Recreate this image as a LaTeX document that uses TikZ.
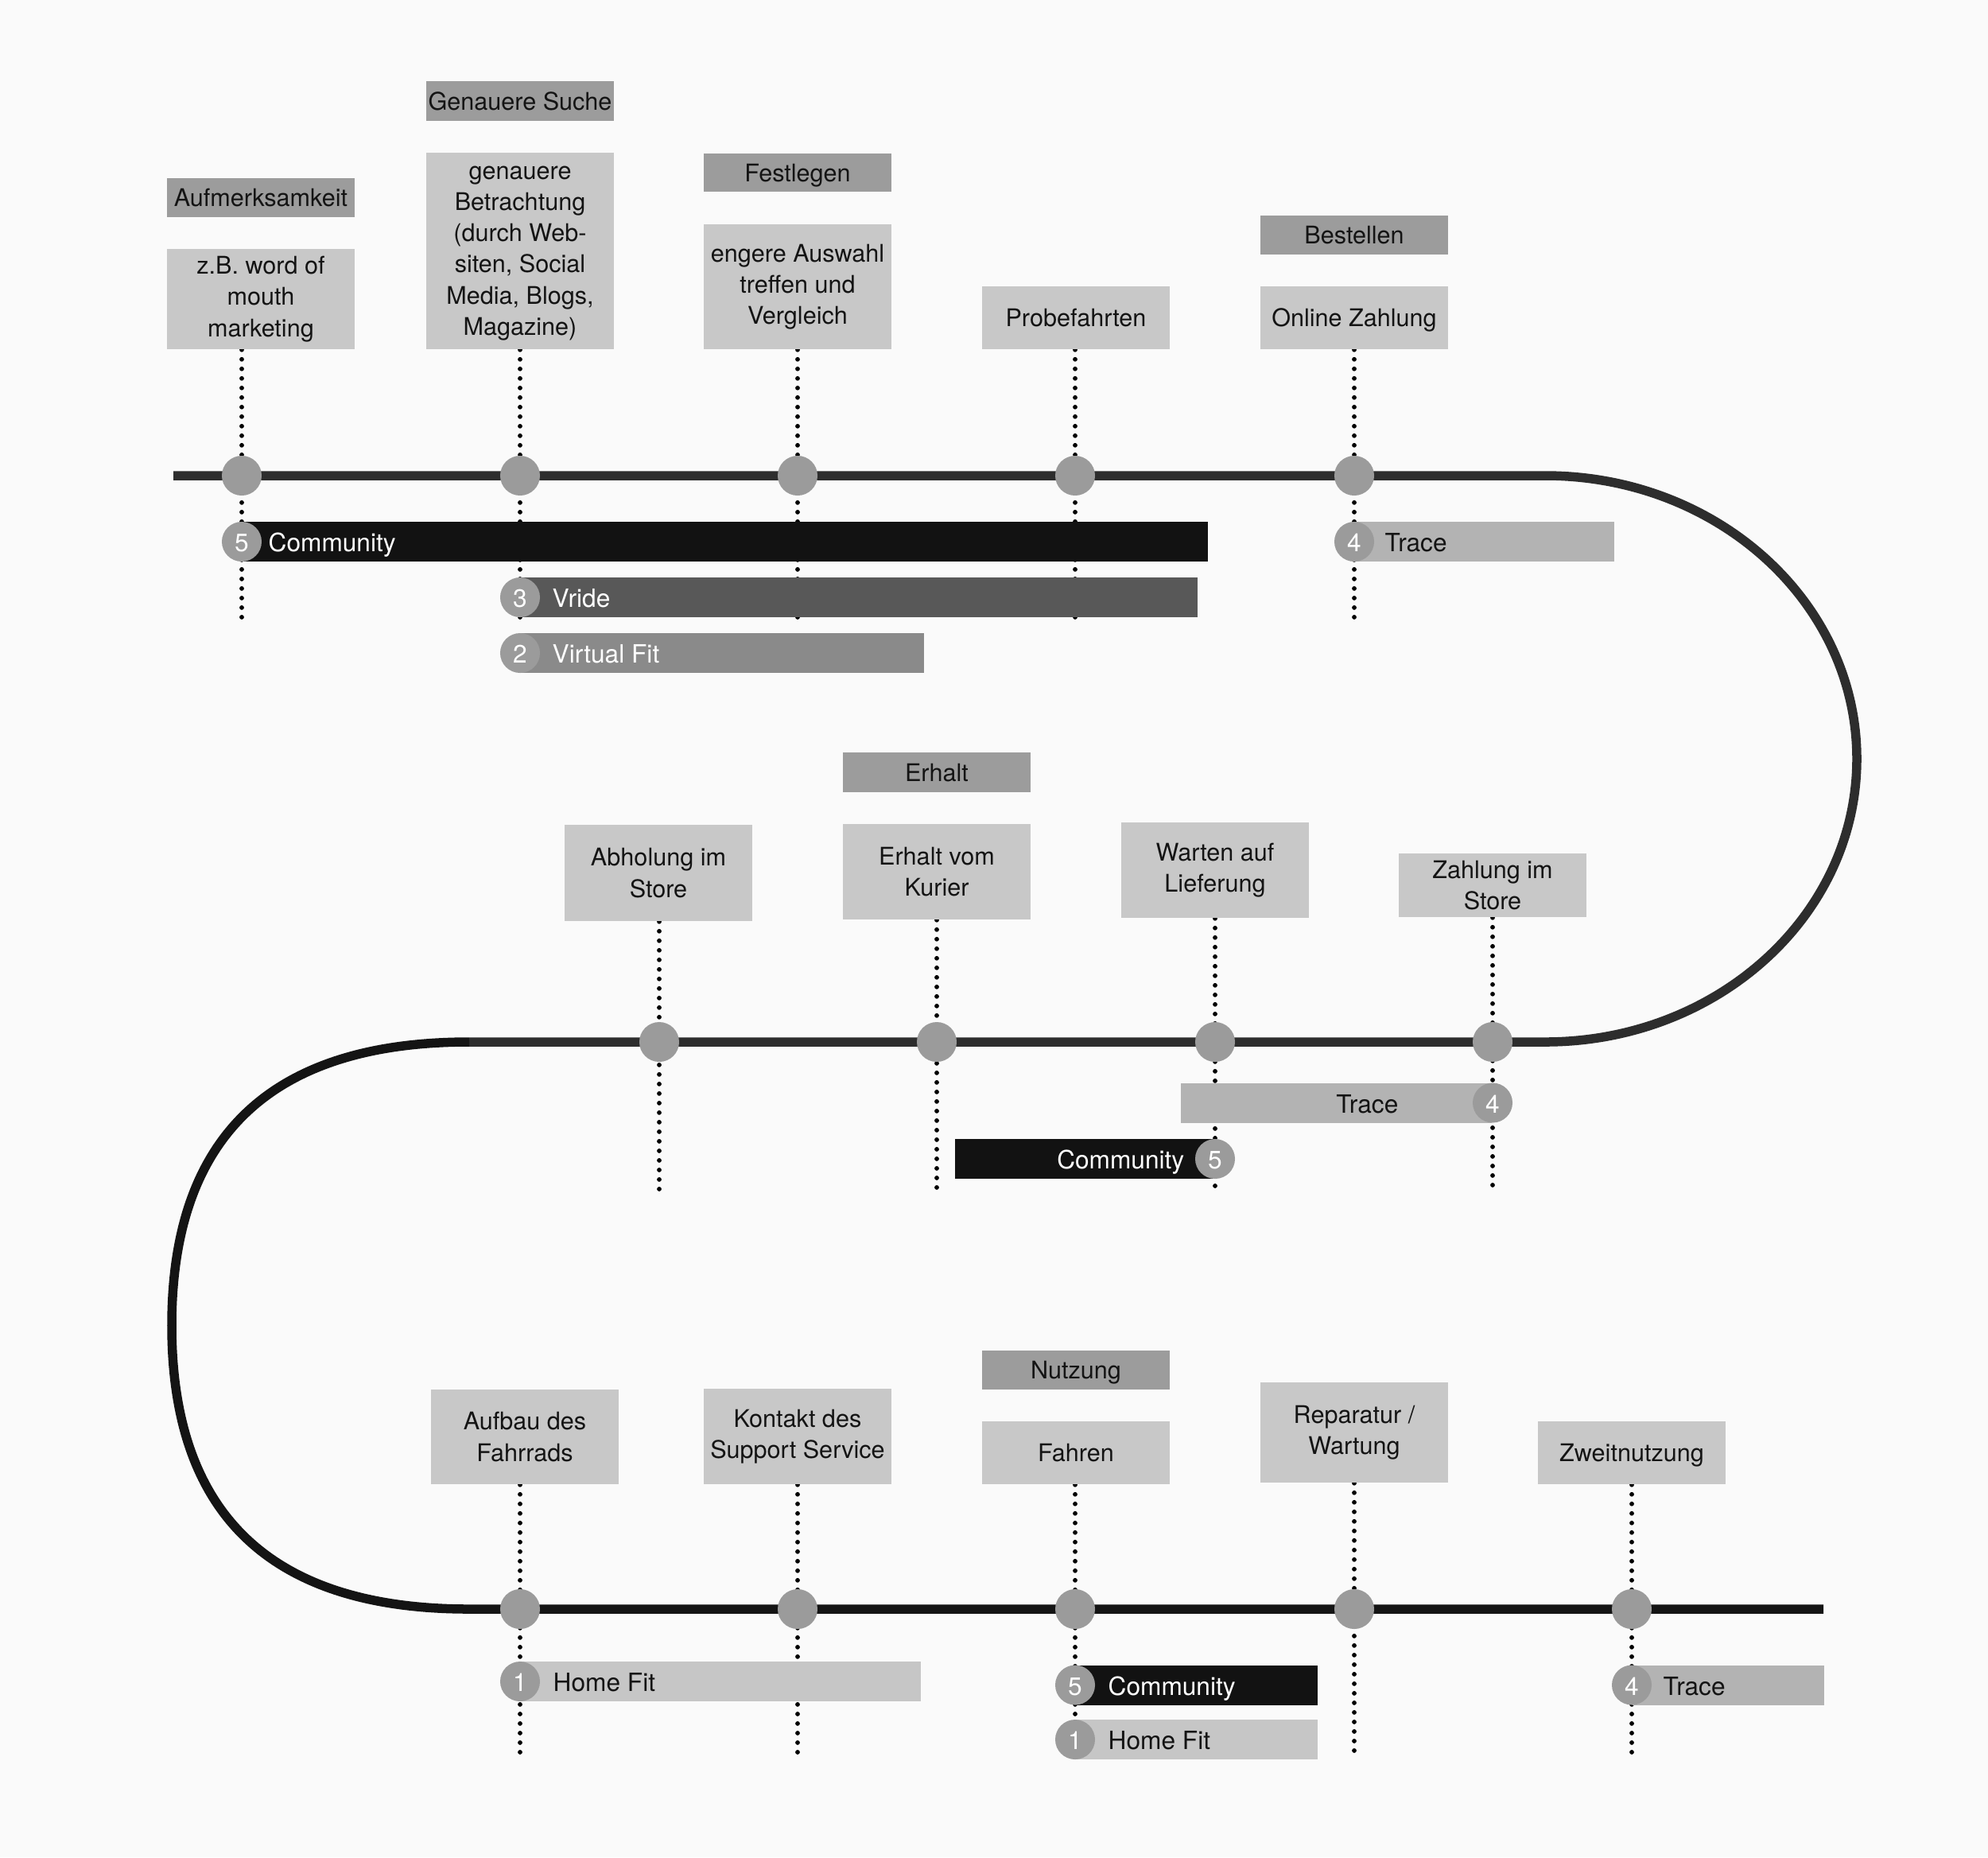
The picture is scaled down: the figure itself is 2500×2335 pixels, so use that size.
\documentclass[tikz,border=0pt]{standalone}
\usepackage{fontspec}
\setmainfont{TeX Gyre Heros}
\definecolor{bgcol}{HTML}{FAFAFA}
\definecolor{hdrgray}{HTML}{9C9C9C}
\definecolor{boxgray}{HTML}{C8C8C8}
\definecolor{stopgray}{HTML}{9B9B9B}
\definecolor{trackA}{HTML}{2D2D2D}
\definecolor{trackB}{HTML}{141414}
\definecolor{commcol}{HTML}{121212}
\definecolor{vridecol}{HTML}{585858}
\definecolor{vfitcol}{HTML}{8A8A8A}
\definecolor{tracecol}{HTML}{B3B3B3}
\definecolor{homecol}{HTML}{C6C6C6}
\definecolor{inkcol}{HTML}{141414}
\newcommand\boxfont{\fontsize{8.7pt}{11.15pt}\selectfont}
\newcommand\barfont{\fontsize{9pt}{11pt}\selectfont}
\newcommand\lowtext[2]{\raisebox{#1}{\begin{tabular}{@{}c@{}}#2\end{tabular}}}
\pgfdeclarelayer{bg}
\pgfdeclarelayer{lines}
\pgfsetlayers{bg,lines,main}
\begin{document}
\begin{tikzpicture}[x=0.01cm,y=-0.01cm,
  hdr/.style={fill=hdrgray, minimum width=2.35cm, minimum height=0.49cm, inner sep=0pt, align=center, font=\boxfont, text=inkcol, text depth=0pt},
  lbox/.style={fill=boxgray, minimum width=2.35cm, inner sep=0pt, align=center, font=\boxfont, text=inkcol},
  stopdot/.style={circle, fill=stopgray, minimum size=0.5cm, inner sep=0pt},
  badge/.style={circle, fill=stopgray, minimum size=0.5cm, inner sep=0pt, text=white, font=\barfont, text height=0.72em, text depth=0pt},
  bar/.style={minimum height=0.5cm, inner sep=0pt},
  bartext/.style={font=\barfont, inner sep=0pt, text height=0.72em, text depth=0pt},
  dots/.style={line width=0.058cm, dash pattern=on 0pt off 0.12cm, line cap=round, draw=black},
  track/.style={line width=0.115cm}
]
\begin{pgfonlayer}{bg}
\fill[bgcol] (0,0) rectangle (2500,2335);
\end{pgfonlayer}
\useasboundingbox (0,0) rectangle (2500,2335);

% ---------- Row 1 boxes ----------
\node[hdr] (h1) at (328,248.5) {Aufmerksamkeit};
\node[lbox, minimum height=1.26cm] (b1) at (328,376) {\lowtext{-1.4pt}{z.B. word of\\mouth\\marketing}};
\node[hdr, minimum height=0.50cm] (h2) at (654,127) {Genauere Suche};
\node[lbox, minimum height=2.47cm] (b2) at (654,315.5) {\lowtext{-1.1pt}{genauere\\Betrachtung\\(durch Web-\\siten, Social\\Media, Blogs,\\Magazine)}};
\node[hdr, minimum height=0.48cm] (h3) at (1003,217) {Festlegen};
\node[lbox, minimum height=1.57cm] (b3) at (1003,360.5) {engere Auswahl\\treffen und\\Vergleich};
\node[lbox, minimum height=0.79cm] (b4) at (1353,399.5) {Probefahrten};
\node[hdr] (h5) at (1703,295.5) {Bestellen};
\node[lbox, minimum height=0.79cm, text depth=0pt] (b5) at (1703,399.5) {Online Zahlung};

% ---------- Row 2 boxes ----------
\node[lbox, minimum height=1.21cm] (b6) at (828,1097.5) {Abholung im\\Store};
\node[hdr, minimum height=0.50cm] (h7) at (1178,971) {Erhalt};
\node[lbox, minimum height=1.20cm] (b7) at (1178,1096) {Erhalt vom\\Kurier};
\node[lbox, minimum height=1.20cm] (b8) at (1528,1094) {Warten auf\\Lieferung};
\node[lbox, minimum height=0.80cm] (b9) at (1877,1113) {Zahlung im\\Store};

% ---------- Row 3 boxes ----------
\node[lbox, minimum height=1.19cm] (b10) at (660,1806.5) {Aufbau des\\Fahrrads};
\node[lbox, minimum height=1.20cm] (b11) at (1003,1806) {Kontakt des\\Support Service};
\node[hdr] (h12) at (1353,1722.5) {Nutzung};
\node[lbox, minimum height=0.79cm] (b12) at (1353,1826.5) {Fahren};
\node[lbox, minimum height=1.26cm] (b13) at (1703,1801) {\lowtext{-1.4pt}{Reparatur /\\Wartung}};
\node[lbox, minimum height=0.79cm, text depth=0pt] (b14) at (2052,1826.5) {Zweitnutzung};

% ---------- stops ----------
\node[stopdot] (s1) at (304,598) {};
\node[stopdot] (s2) at (654,598) {};
\node[stopdot] (s3) at (1003,598) {};
\node[stopdot] (s4) at (1352,598) {};
\node[stopdot] (s5) at (1703,598) {};
\node[stopdot] (s6) at (829,1310) {};
\node[stopdot] (s7) at (1178,1310) {};
\node[stopdot] (s8) at (1528,1310) {};
\node[stopdot] (s9) at (1877,1310) {};
\node[stopdot] (s10) at (654,2023) {};
\node[stopdot] (s11) at (1003,2023) {};
\node[stopdot] (s12) at (1352,2023) {};
\node[stopdot] (s13) at (1703,2023) {};
\node[stopdot] (s14) at (2052,2023) {};

% ---------- dotted line ends ----------
\coordinate (e1) at (304,782);
\coordinate (e2) at (654,782);
\coordinate (e3) at (1003,782);
\coordinate (e4) at (1352,782);
\coordinate (e5) at (1703,782);
\coordinate (e6) at (829,1497);
\coordinate (e7) at (1178,1497);
\coordinate (e8) at (1528,1497);
\coordinate (e9) at (1877,1497);
\coordinate (e10) at (654,2211);
\coordinate (e11) at (1003,2211);
\coordinate (e12) at (1352,2211);
\coordinate (e13) at (1703,2211);
\coordinate (e14) at (2052,2211);

% ---------- track coordinates ----------
\coordinate (t0) at (218,598);
\coordinate (r0) at (1943,598);
\coordinate (r1) at (2335,954);
\coordinate (r2) at (1943,1310);
\coordinate (l0) at (590,1310);
\coordinate (l1) at (216,1666.5);
\coordinate (l2) at (590,2023);
\coordinate (t1) at (2293,2023);

% ---------- bars row 1 ----------
\node[bar, fill=commcol, minimum width=12.14cm, anchor=west] (bar1) at (304,681) {};
\node[badge] (n1) at (bar1.west) {5};
\node[bartext, text=white, anchor=west] (x1) at (337,681) {Community};
\node[bar, fill=tracecol, minimum width=3.26cm, anchor=west] (bar2) at (1703,681) {};
\node[badge] (n2) at (bar2.west) {4};
\node[bartext, text=inkcol, anchor=west] (x2) at (1741,681) {Trace};
\node[bar, fill=vridecol, minimum width=8.51cm, anchor=west] (bar3) at (654,751) {};
\node[badge] (n3) at (bar3.west) {3};
\node[bartext, text=white, anchor=west] (x3) at (694,751) {Vride};
\node[bar, fill=vfitcol, minimum width=5.07cm, anchor=west] (bar4) at (654,821) {};
\node[badge] (n4) at (bar4.west) {2};
\node[bartext, text=white, anchor=west] (x4) at (694,821) {Virtual Fit};

% ---------- bars row 2 ----------
\node[bar, fill=tracecol, minimum width=3.91cm, anchor=east] (bar5) at (1877,1386.5) {};
\node[badge] (n5) at (bar5.east) {4};
\node[bartext, text=inkcol, anchor=east] (x5) at (1759,1386.5) {Trace};
\node[bar, fill=commcol, minimum width=3.26cm, anchor=east] (bar6) at (1528,1457) {};
\node[badge] (n6) at (bar6.east) {5};
\node[bartext, text=white, anchor=east] (x6) at (1490,1457) {Community};

% ---------- bars row 3 ----------
\node[bar, fill=homecol, minimum width=5.03cm, anchor=west] (bar7) at (654,2114) {};
\node[badge] (n7) at (bar7.west) {1};
\node[bartext, text=inkcol, anchor=west] (x7) at (695,2114) {Home Fit};
\node[bar, fill=commcol, minimum width=3.04cm, anchor=west] (bar8) at (1352,2118.5) {};
\node[badge] (n8) at (bar8.west) {5};
\node[bartext, text=white, anchor=west] (x8) at (1393,2118.5) {Community};
\node[bar, fill=homecol, minimum width=3.04cm, anchor=west] (bar9) at (1352,2187) {};
\node[badge] (n9) at (bar9.west) {1};
\node[bartext, text=inkcol, anchor=west] (x9) at (1393,2187) {Home Fit};
\node[bar, fill=tracecol, minimum width=2.41cm, anchor=west] (bar10) at (2052,2118.5) {};
\node[badge] (n10) at (bar10.west) {4};
\node[bartext, text=inkcol, anchor=west] (x10) at (2091,2118.5) {Trace};

% ---------- connectors (under nodes) ----------
\begin{pgfonlayer}{lines}
\draw[dots] (s1 |- b1.south) -- (e1);
\draw[dots] (b2.south) -- (e2);
\draw[dots] (b3.south) -- (e3);
\draw[dots] (s4 |- b4.south) -- (e4);
\draw[dots] (b5.south) -- (e5);
\draw[dots] (s6 |- b6.south) -- (e6);
\draw[dots] (b7.south) -- (e7);
\draw[dots] (s8 |- b8.south) -- (e8);
\draw[dots] (b9.south) -- (e9);
\draw[dots] (s10 |- b10.south) -- (e10);
\draw[dots] (s11 |- b11.south) -- (e11);
\draw[dots] (s12 |- b12.south) -- (e12);
\draw[dots] (b13.south) -- (e13);
\draw[dots] (b14.south) -- (e14);
\draw[track, draw=trackA] (t0) -- (r0) .. controls (2159.5,598) and (2335,757) .. (r1)
  .. controls (2335,1151) and (2159.5,1310) .. (r2) -- (l0);
\draw[track, draw=trackB] (l0) .. controls (350,1310) and (216,1420) .. (l1)
  .. controls (216,1913) and (350,2023) .. (l2) -- (t1);
\end{pgfonlayer}
\end{tikzpicture}
\end{document}
